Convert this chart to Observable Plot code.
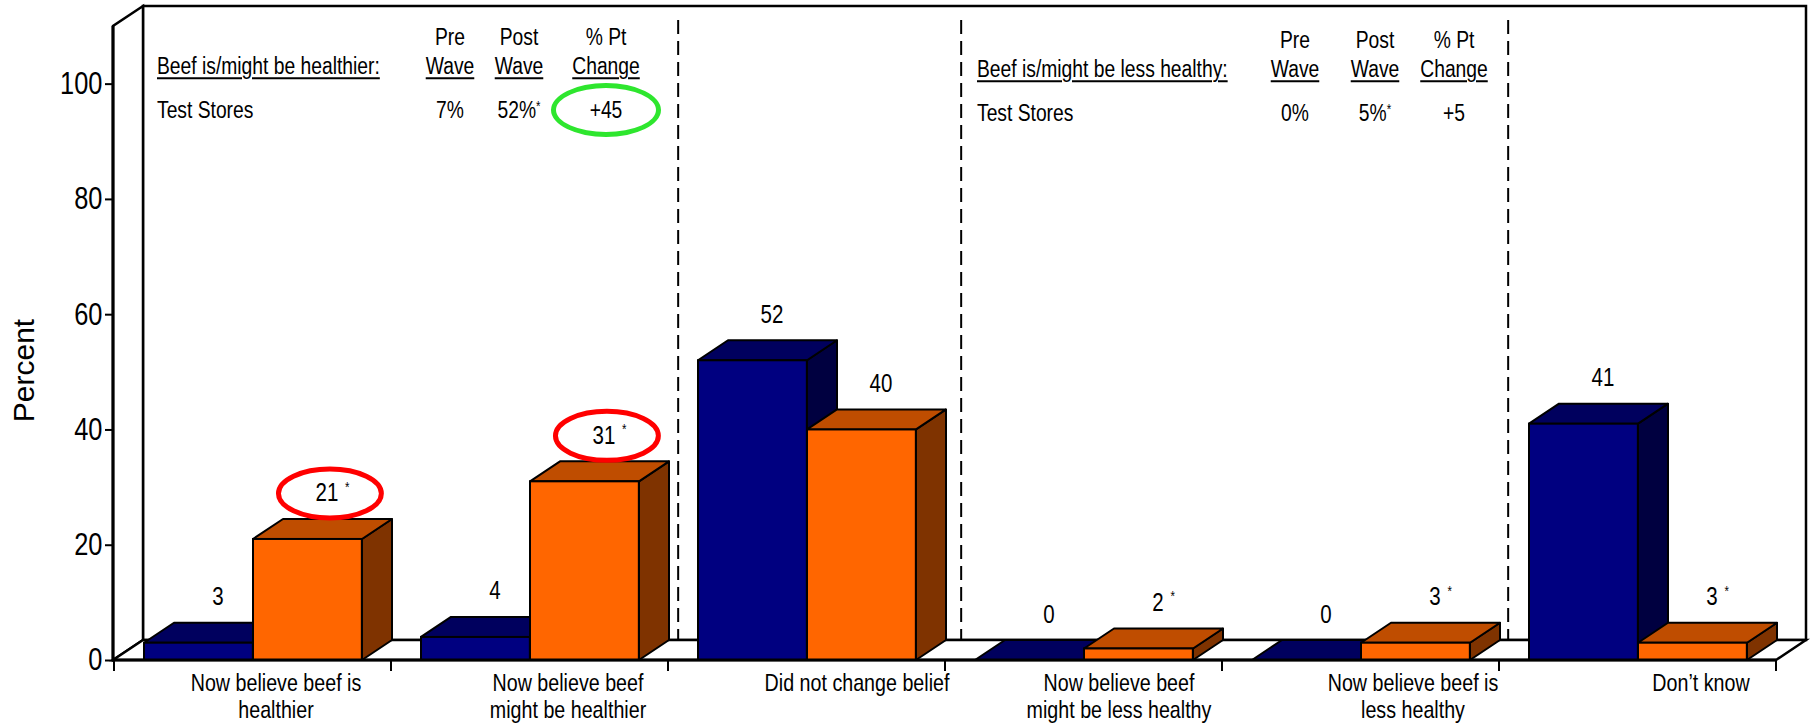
<!DOCTYPE html>
<html>
<head>
<meta charset="utf-8">
<script src="https://cdn.jsdelivr.net/npm/d3@7"></script>
<script src="https://cdn.jsdelivr.net/npm/@observablehq/plot@0.6"></script>
<style>
  html, body { margin: 0; padding: 0; background: #fff; }
  #chart { position: relative; width: 1810px; height: 724px; }
  #chart svg { position: absolute; left: 0; top: 0; }
  .t { position: absolute; font-family: "Liberation Sans", Arial, sans-serif; font-size: 23.5px; line-height: 1; white-space: nowrap; color: #000; }
  /* Arial-Narrow-like set: regular glyphs compressed horizontally */
  .c { transform: translate(-50%, -50%) scaleX(0.82); transform-origin: 50% 50%; }
  .l { transform: translate(0, -50%) scaleX(0.82); transform-origin: 0 50%; }
  .u { text-decoration: underline; text-decoration-thickness: 2px; text-underline-offset: 3px; }
  .s { font-size: 14px; vertical-align: 7px; }
  .ring { position: absolute; border: 5px solid #2ee62e; border-radius: 50%; box-sizing: border-box; }
</style>
</head>
<body>
<div id="chart"></div>
<script>
// Survey results: share of shoppers by change in belief about beef, pre vs post wave
const categories = [
  "Now believe beef is\nhealthier",
  "Now believe beef\nmight be healthier",
  "Did not change belief",
  "Now believe beef\nmight be less healthy",
  "Now believe beef is\nless healthy",
  "Don\u2019t know"
];
const preWave = [3, 4, 52, 0, 0, 41];
const postWave = [21, 31, 40, 2, 3, 3];
const postSignificant = [true, true, false, true, true, true];
const postCircled = [true, true, false, false, false, false];
const yTicks = [0, 20, 40, 60, 80, 100];
const yMax = 110;

// Summary tables
const tableHeaders = [["Pre", "Wave"], ["Post", "Wave"], ["% Pt", "Change"]];
const healthierTitle = "Beef is/might be healthier:";
const healthierRow = ["Test Stores", "7%", "52%*", "+45"];
const lessHealthyTitle = "Beef is/might be less healthy:";
const lessHealthyRow = ["Test Stores", "0%", "5%*", "+5"];

// Colours and layout
const navy = {front: "#000080", top: "#00005e", side: "#000040"};
const orange = {front: "#ff6600", top: "#bf4d00", side: "#7f3300"};
const sans = "'Liberation Sans', Arial, sans-serif";
const narrowScale = 0.82;
const W = 1810, H = 724;
const mLeft = 113, mRight = 34, mTop = 26, mBottom = 64;
const depthX = 30, depthY = 20;       // 3-D depth offset
const step = (W - mLeft - mRight) / categories.length;
const lead = 30, barW = 109;          // bar placement inside each category
const labelNudge = [23, 38, 50, 35, 52, 63];
const dividerAfter = [1, 2, 4], dividerOffset = [10, 16, 9];

const rows = categories.map((cat, i) => ({
  cat, pre: preWave[i], post: postWave[i], sig: postSignificant[i], circled: postCircled[i]
}));

// Walls, floor and dashed dividers of the 3-D frame
function scene(index, scales, values, dims) {
  const g = d3.create("svg:g").attr("stroke", "#000").attr("fill", "#fff").attr("stroke-width", 2.5);
  const xl = dims.marginLeft, xr = dims.width - dims.marginRight;
  const y0 = scales.y(0), yT = scales.y(yMax);
  g.append("path").attr("d", `M${xl + depthX},${y0 - depthY}V${yT - depthY}H${xr + depthX}V${y0 - depthY}Z`);
  g.append("path").attr("d", `M${xl},${y0}V${yT}L${xl + depthX},${yT - depthY}V${y0 - depthY}Z`);
  g.append("path").attr("d", `M${xl},${y0}H${xr}L${xr + depthX},${y0 - depthY}H${xl + depthX}Z`);
  dividerAfter.forEach((k, j) => {
    const x = scales.x(categories[k]) + step + dividerOffset[j];
    g.append("line").attr("x1", x).attr("x2", x).attr("y1", yT - 6).attr("y2", y0 - depthY)
      .attr("stroke-width", 2).attr("stroke-dasharray", "14,7");
  });
  return g.node();
}

// Front axis lines and the category boundary ticks
function axisLines(index, scales, values, dims) {
  const g = d3.create("svg:g").attr("stroke", "#000").attr("fill", "none");
  const xl = dims.marginLeft, xr = dims.width - dims.marginRight;
  const y0 = scales.y(0), yT = scales.y(yMax);
  g.append("line").attr("x1", xl).attr("x2", xl).attr("y1", yT).attr("y2", y0 + 1).attr("stroke-width", 3);
  g.append("line").attr("x1", xl).attr("x2", xr).attr("y1", y0).attr("y2", y0).attr("stroke-width", 3);
  for (let k = 0; k <= categories.length; k++) {
    const x = k < categories.length ? scales.x(categories[k]) : xr;
    g.append("line").attr("x1", x).attr("x2", x).attr("y1", y0).attr("y2", y0 + 11).attr("stroke-width", 2);
  }
  return g.node();
}

// Top and side faces of the 3-D columns
function faces(key, colors, offset) {
  return (index, scales) => {
    const g = d3.create("svg:g").attr("stroke", "#000").attr("stroke-width", 2).attr("stroke-linejoin", "round");
    const y0 = scales.y(0);
    for (const d of rows) {
      const x0 = scales.x(d.cat) + offset, x1 = x0 + barW, yv = scales.y(d[key]);
      g.append("path").attr("fill", colors.side)
        .attr("d", `M${x1},${yv}L${x1 + depthX},${yv - depthY}L${x1 + depthX},${y0 - depthY}L${x1},${y0}Z`);
      g.append("path").attr("fill", colors.top)
        .attr("d", `M${x0},${yv}L${x1},${yv}L${x1 + depthX},${yv - depthY}L${x0 + depthX},${yv - depthY}Z`);
    }
    return g.node();
  };
}

const ellipseSymbol = {
  draw(ctx, size) {
    const r = Math.sqrt(size / Math.PI), rx = r * 2.1, ry = r, k = 0.5523;
    ctx.moveTo(rx, 0);
    ctx.bezierCurveTo(rx, k * ry, k * rx, ry, 0, ry);
    ctx.bezierCurveTo(-k * rx, ry, -rx, k * ry, -rx, 0);
    ctx.bezierCurveTo(-rx, -k * ry, -k * rx, -ry, 0, -ry);
    ctx.bezierCurveTo(k * rx, -ry, rx, -k * ry, rx, 0);
    ctx.closePath();
  }
};

const preDx = lead + barW / 2 + 19 - step / 2;
const postDx = lead + barW + barW / 2 + 19 - step / 2;
const labelDy = -46;

const starMarks = [1, 2].map(digits => Plot.text(
  rows.filter(d => d.sig && String(d.post).length === digits),
  {x: "cat", y: "post", text: () => "*", dx: postDx + digits * 5.7 + 9, dy: labelDy - 6,
   fontSize: 14, fontFamily: sans, lineAnchor: "middle"}
));

const categoryMarks = categories.map((c, i) => Plot.text([c], {
  x: d => d, text: d => d, frameAnchor: "bottom", dy: 11, dx: labelNudge[i],
  lineAnchor: "top", lineHeight: 1.13, fontSize: 24, fontFamily: sans
}));

const chart = Plot.plot({
  width: W, height: H,
  marginLeft: mLeft, marginRight: mRight, marginTop: mTop, marginBottom: mBottom,
  style: {background: "#fff", color: "#000", fontFamily: sans},
  x: {domain: categories, padding: 0, axis: null},
  y: {domain: [0, yMax], axis: null},
  marks: [
    scene,
    faces("pre", navy, lead),
    Plot.barY(rows, {x: "cat", y: "pre", fill: navy.front, stroke: "#000", strokeWidth: 2,
      insetLeft: lead, insetRight: step - lead - barW}),
    faces("post", orange, lead + barW),
    Plot.barY(rows, {x: "cat", y: "post", fill: orange.front, stroke: "#000", strokeWidth: 2,
      insetLeft: lead + barW, insetRight: step - lead - 2 * barW}),
    axisLines,
    Plot.axisY({ticks: yTicks, tickSize: 8, tickPadding: 3, fontSize: 31, fontFamily: sans,
      strokeWidth: 2, label: null}),
    Plot.text(rows, {x: "cat", y: "pre", text: d => String(d.pre), dx: preDx, dy: labelDy,
      fontSize: 25, fontFamily: sans, lineAnchor: "middle"}),
    Plot.text(rows, {x: "cat", y: "post", text: d => String(d.post), dx: postDx, dy: labelDy,
      fontSize: 25, fontFamily: sans, lineAnchor: "middle"}),
    ...starMarks,
    Plot.dot(rows.filter(d => d.circled), {x: "cat", y: "post", dx: postDx + 3, dy: labelDy,
      r: 24.5, symbol: ellipseSymbol, stroke: "#ff0000", strokeWidth: 5, fill: "none"}),
    ...categoryMarks,
    Plot.text(["Percent"], {text: d => d, frameAnchor: "left", textAnchor: "middle", lineAnchor: "middle",
      dx: -89, dy: 27, rotate: -90, fontSize: 30, fontFamily: sans})
  ]
});

// Compress every label except the axis title into a narrow face
chart.querySelectorAll("text").forEach(t => {
  if (t.textContent === "Percent") return;
  const tr = t.getAttribute("transform") || "";
  t.setAttribute("transform", `${tr} scale(${narrowScale},1)`);
});

const root = document.getElementById("chart");
root.appendChild(chart);

// Summary tables above the columns
function addText(html, x, y, cls) {
  const el = document.createElement("div");
  el.className = "t " + cls;
  el.style.left = x + "px";
  el.style.top = y + "px";
  el.innerHTML = html;
  root.appendChild(el);
}
function withStar(s) {
  return s.replace("*", '<span class="s">*</span>');
}
function addTable(title, row, x0, cols, y0) {
  addText(title, x0, y0 + 29, "l u");
  tableHeaders.forEach((h, j) => {
    addText(h[0], cols[j], y0, "c");
    addText(h[1], cols[j], y0 + 29, "c u");
  });
  addText(row[0], x0, y0 + 73, "l");
  row.slice(1).forEach((v, j) => addText(withStar(v), cols[j], y0 + 73, "c"));
}
addTable(healthierTitle, healthierRow, 157, [450, 519, 606], 38);
addTable(lessHealthyTitle, lessHealthyRow, 977, [1295, 1375, 1454], 41);

// Highlight of the healthier change figure
const ring = document.createElement("div");
ring.className = "ring";
Object.assign(ring.style, {left: (606 - 55) + "px", top: (110 - 27) + "px", width: "110px", height: "54px"});
root.appendChild(ring);
</script>
</body>
</html>
